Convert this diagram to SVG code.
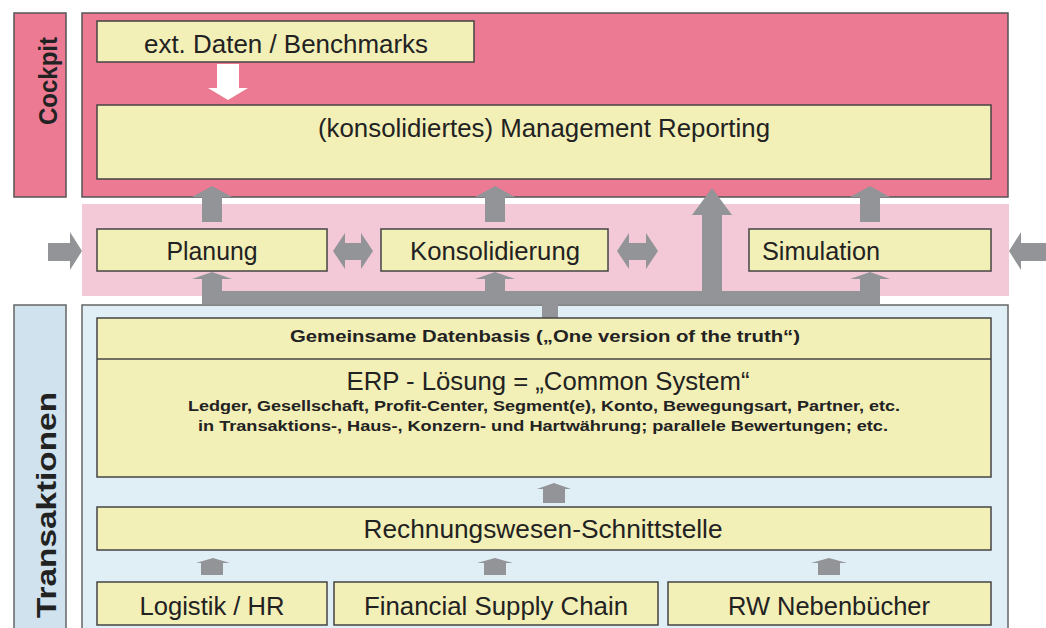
<svg xmlns="http://www.w3.org/2000/svg" width="1046" height="628" viewBox="0 0 1046 628">
  <style>
    .pink{fill:#ec7a93;stroke:#555;stroke-width:1.5}
    .band{fill:#f3c9d7}
    .blue{fill:#e0eef5;stroke:#666;stroke-width:1.5}
    .bluelab{fill:#cfe2ee;stroke:#666;stroke-width:1.5}
    .box{fill:#f2efb7;stroke:#444;stroke-width:1.5}
    .arr{fill:#939498}
    .t{font-family:"Liberation Sans",Arial,sans-serif;font-size:25px;fill:#222;text-anchor:middle}
    .b{font-family:"Liberation Sans",Arial,sans-serif;font-weight:bold;fill:#222;text-anchor:middle}
    .lab{font-family:"Liberation Sans",Arial,sans-serif;font-weight:bold;fill:#222}
  </style>
  <rect width="1046" height="628" fill="#fff"/>

  <!-- Cockpit layer -->
  <g id="cockpit-label">
    <rect class="pink" x="14" y="13" width="52" height="184"/>
    <text class="lab" font-size="25" transform="translate(57,125) rotate(-90)" textLength="88" lengthAdjust="spacingAndGlyphs">Cockpit</text>
  </g>
  <g id="cockpit">
    <rect class="pink" x="82" y="13" width="926" height="184"/>
  </g>
  <g id="ext-daten">
    <rect class="box" x="97" y="21" width="377" height="41"/>
    <text class="t" x="286" y="53" textLength="284" lengthAdjust="spacingAndGlyphs">ext. Daten / Benchmarks</text>
  </g>
  <g id="management-reporting">
    <rect class="box" x="97" y="105" width="894" height="74"/>
    <text class="t" x="544" y="137" textLength="452" lengthAdjust="spacingAndGlyphs">(konsolidiertes) Management Reporting</text>
  </g>

  <!-- middle band -->
  <rect class="band" x="82" y="204" width="927" height="92"/>

  <!-- Transaktionen layer -->
  <g id="transaktionen-label">
    <rect class="bluelab" x="14" y="305" width="52" height="340"/>
    <text class="lab" font-size="27" transform="translate(56,618) rotate(-90)" textLength="226" lengthAdjust="spacingAndGlyphs">Transaktionen</text>
  </g>
  <g id="transaktionen">
    <rect class="blue" x="82" y="305" width="926" height="340"/>
  </g>

  <!-- connectors -->
  <g id="connectors" class="arr">
    <!-- white arrow ext daten -> reporting -->
    <polygon fill="#fff" points="217,64 239,64 239,88 248,88 228,100 208,88 217,88"/>
    <!-- up arrows into cockpit -->
    <polygon points="202,222 222,222 222,197 232,197 212,186 192,197 202,197"/>
    <polygon points="485,222 505,222 505,197 515,197 495,186 475,197 485,197"/>
    <polygon points="860,222 880,222 880,197 890,197 870,186 850,197 860,197"/>
    <polygon points="702,298 722,298 722,215 732,215 712,188 692,215 702,215"/>
    <!-- bottom bar -->
    <rect x="202" y="291" width="678" height="13"/>
    <rect x="542" y="300" width="16" height="18"/>
    <!-- up arrows into planung/konsolidierung/simulation -->
    <polygon points="202,292 222,292 222,279 232,279 212,272 192,279 202,279"/>
    <polygon points="485,292 505,292 505,279 515,279 495,272 475,279 485,279"/>
    <polygon points="860,292 880,292 880,279 890,279 870,272 850,279 860,279"/>
    <!-- side arrows -->
    <polygon points="48,243 70,243 70,232 82,251 70,270 70,261 48,261"/>
    <polygon points="1046,243 1021,243 1021,232 1009,251 1021,270 1021,261 1046,261"/>
    <!-- double arrows -->
    <polygon points="333,251 345,233 345,243 361,243 361,233 373,251 361,269 361,260 345,260 345,269"/>
    <polygon points="617,251 629,233 629,243 646,243 646,233 658,251 646,269 646,260 629,260 629,269"/>
    <!-- small arrows in transactions -->
    <polygon points="543,503 565,503 565,489 571,489 554,483 537,489 543,489"/>
    <polygon points="201,575 223,575 223,563 230,563 213,558 196,563 201,563"/>
    <polygon points="484,575 506,575 506,563 513,563 495,558 477,563 484,563"/>
    <polygon points="818,575 840,575 840,563 847,563 829,558 811,563 818,563"/>
  </g>

  <g id="planung">
    <rect class="box" x="97" y="229" width="230" height="42"/>
    <text class="t" x="212" y="260" textLength="91" lengthAdjust="spacingAndGlyphs">Planung</text>
  </g>
  <g id="konsolidierung">
    <rect class="box" x="381" y="229" width="227" height="42"/>
    <text class="t" x="495" y="260" textLength="170" lengthAdjust="spacingAndGlyphs">Konsolidierung</text>
  </g>
  <g id="simulation">
    <rect class="box" x="749" y="229" width="242" height="42"/>
    <text class="t" x="762" y="260" style="text-anchor:start" textLength="118" lengthAdjust="spacingAndGlyphs">Simulation</text>
  </g>

  <g id="erp">
    <rect class="box" x="97" y="318" width="894" height="159"/>
    <line x1="97" y1="359" x2="991" y2="359" stroke="#444" stroke-width="1.5"/>
    <text class="b" font-size="17" x="545" y="342" textLength="510" lengthAdjust="spacingAndGlyphs">Gemeinsame Datenbasis („One version of the truth“)</text>
    <text class="t" x="548" y="390" textLength="403" lengthAdjust="spacingAndGlyphs">ERP - Lösung = „Common System“</text>
    <text class="b" font-size="14" x="544" y="411" textLength="712" lengthAdjust="spacingAndGlyphs">Ledger, Gesellschaft, Profit-Center, Segment(e), Konto, Bewegungsart, Partner, etc.</text>
    <text class="b" font-size="14" x="543" y="431" textLength="690" lengthAdjust="spacingAndGlyphs">in Transaktions-, Haus-, Konzern- und Hartwährung; parallele Bewertungen; etc.</text>
  </g>
  <g id="rw-schnittstelle">
    <rect class="box" x="97" y="507" width="894" height="43"/>
    <text class="t" x="543" y="538" textLength="359" lengthAdjust="spacingAndGlyphs">Rechnungswesen-Schnittstelle</text>
  </g>
  <g id="logistik">
    <rect class="box" x="97" y="582" width="230" height="43"/>
    <text class="t" x="212" y="615" textLength="145" lengthAdjust="spacingAndGlyphs">Logistik / HR</text>
  </g>
  <g id="fsc">
    <rect class="box" x="334" y="582" width="324" height="43"/>
    <text class="t" x="496" y="615" textLength="264" lengthAdjust="spacingAndGlyphs">Financial Supply Chain</text>
  </g>
  <g id="rw-nebenbuecher">
    <rect class="box" x="668" y="582" width="323" height="43"/>
    <text class="t" x="829" y="615" textLength="202" lengthAdjust="spacingAndGlyphs">RW Nebenbücher</text>
  </g>
</svg>
